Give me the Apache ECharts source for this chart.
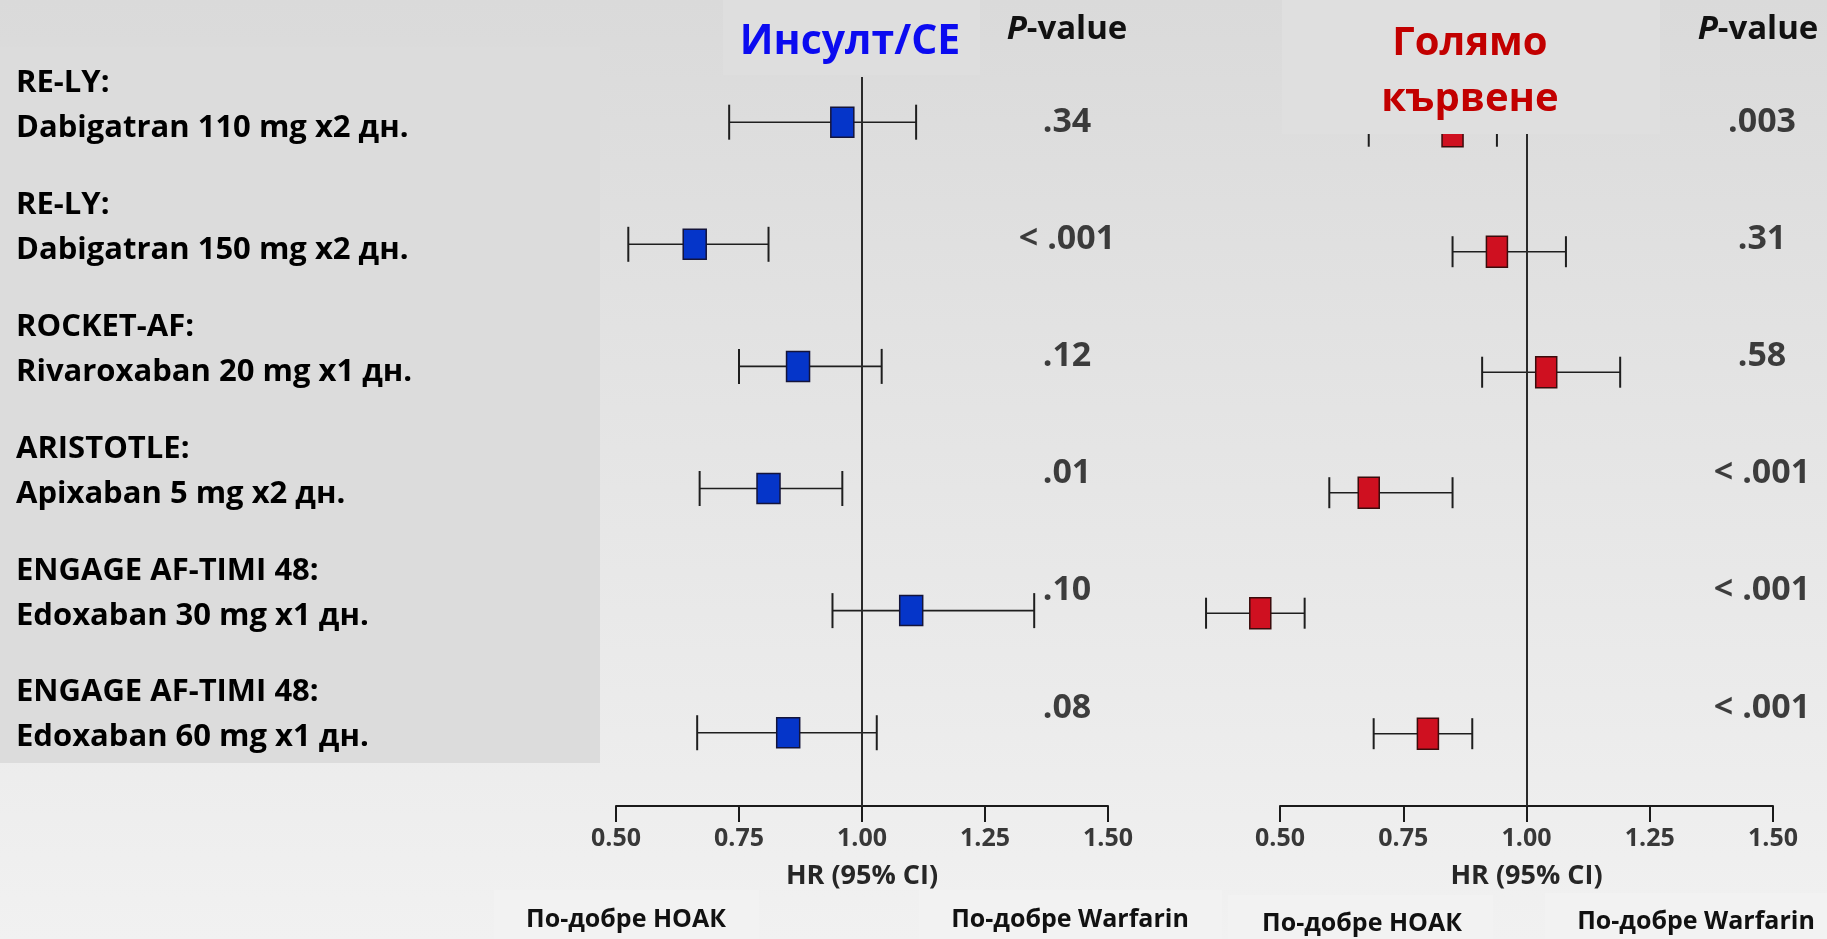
<!DOCTYPE html>
<html>
<head>
<meta charset="utf-8">
<script src="https://cdn.jsdelivr.net/npm/echarts@6/dist/echarts.min.js"></script>
<style>
html,body{margin:0;padding:0;width:1827px;height:939px;overflow:hidden;background:#e6e6e6}
#chart{width:1827px;height:939px}
</style>
</head>
<body>
<div id="chart"></div>
<script>
// ---- data ----
var trials = ['RE-LY:', 'RE-LY:', 'ROCKET-AF:', 'ARISTOTLE:', 'ENGAGE AF-TIMI 48:', 'ENGAGE AF-TIMI 48:'];
var regimens = ['Dabigatran 110 mg x2 дн.', 'Dabigatran 150 mg x2 дн.', 'Rivaroxaban 20 mg x1 дн.', 'Apixaban 5 mg x2 дн.', 'Edoxaban 30 mg x1 дн.', 'Edoxaban 60 mg x1 дн.'];

var strokeHR = [0.96, 0.66, 0.87, 0.81, 1.10, 0.85];
var strokeLo = [0.73, 0.525, 0.75, 0.67, 0.94, 0.665];
var strokeHi = [1.11, 0.81, 1.04, 0.96, 1.35, 1.03];
var strokeP  = ['.34', '< .001', '.12', '.01', '.10', '.08'];

var bleedHR = [0.85, 0.94, 1.04, 0.68, 0.46, 0.80];
var bleedLo = [0.68, 0.85, 0.91, 0.60, 0.35, 0.69];
var bleedHi = [0.94, 1.08, 1.19, 0.85, 0.55, 0.89];
var bleedP  = ['.003', '.31', '.58', '< .001', '< .001', '< .001'];

var xTicks = [0.50, 0.75, 1.00, 1.25, 1.50];
var refHR = 1.0;

var titleStroke = 'Инсулт/СЕ';
var titleBleed = 'Голямо\nкървене';
var pHeader = '{i|P}-value';
var axisTitle = 'HR (95% CI)';
var favourNoac = 'По-добре НОАК';
var favourWarf = 'По-добре Warfarin';

// ---- chart ----
var FONT = '"Open Sans", "Noto Sans", sans-serif';
var chart = echarts.init(document.getElementById('chart'), null, {renderer: 'canvas'});

function rowsData(lo, hr, hi) {
  return hr.map(function (v, i) { return [i, lo[i], v, hi[i]]; });
}

function makeRender(fill, border, boxW, boxH, capH) {
  return function (params, api) {
    var row = api.value(0);
    var pL = api.coord([api.value(1), row]);
    var pM = api.coord([api.value(2), row]);
    var pR = api.coord([api.value(3), row]);
    var ink = '#1e1e1e';
    return {
      type: 'group',
      children: [
        {type: 'line', shape: {x1: pL[0], y1: pL[1], x2: pR[0], y2: pR[1]}, style: {stroke: ink, lineWidth: 1.6}},
        {type: 'line', shape: {x1: pL[0], y1: pL[1] - capH / 2, x2: pL[0], y2: pL[1] + capH / 2}, style: {stroke: ink, lineWidth: 2}},
        {type: 'line', shape: {x1: pR[0], y1: pR[1] - capH / 2, x2: pR[0], y2: pR[1] + capH / 2}, style: {stroke: ink, lineWidth: 2}},
        {type: 'rect', shape: {x: pM[0] - boxW / 2, y: pM[1] - boxH / 2, width: boxW, height: boxH}, style: {fill: fill, stroke: border, lineWidth: 1.5}}
      ]
    };
  };
}

function hrAxis(gridIndex) {
  return {
    gridIndex: gridIndex,
    type: 'value',
    min: xTicks[0],
    max: xTicks[xTicks.length - 1],
    interval: xTicks[1] - xTicks[0],
    axisLine: {show: true, onZero: false, lineStyle: {color: '#1a1a1a', width: 2}},
    axisTick: {show: true, inside: false, length: 16, lineStyle: {color: '#1a1a1a', width: 2}},
    splitLine: {show: false},
    axisLabel: {
      formatter: function (v) { return v.toFixed(2); },
      fontFamily: FONT, fontSize: 25, fontWeight: 'bold', color: '#383838', margin: 20
    },
    name: axisTitle,
    nameLocation: 'middle',
    nameGap: 57,
    nameTextStyle: {fontFamily: FONT, fontSize: 27, fontWeight: 'bold', color: '#262626'}
  };
}

function refLine() {
  return {
    silent: true,
    symbol: ['none', 'none'],
    label: {show: false},
    lineStyle: {color: '#2a2a2a', width: 2, type: 'solid'},
    data: [{xAxis: refHR}]
  };
}

function pSeries(axisIdx, values) {
  return {
    type: 'scatter',
    xAxisIndex: axisIdx, yAxisIndex: axisIdx,
    symbolSize: 1,
    itemStyle: {color: 'rgba(0,0,0,0)'},
    silent: true,
    data: values.map(function (p, i) { return [0.5, i]; }),
    label: {
      show: true, position: 'inside',
      formatter: function (prm) { return values[prm.dataIndex]; },
      fontFamily: FONT, fontSize: 34, fontWeight: 'bold', color: '#111'
    }
  };
}

var option = {
  animation: false,
  backgroundColor: 'transparent',
  grid: [
    {left: 16, top: 45, width: 10, height: 731},
    {left: 616, top: 77, width: 492, height: 729},
    {left: 1280, top: 77, width: 493, height: 729},
    {left: 1017, top: 63.4, width: 100, height: 703},
    {left: 1712, top: 63.4, width: 100, height: 703}
  ],
  xAxis: [
    {gridIndex: 0, type: 'value', show: false},
    hrAxis(1),
    hrAxis(2),
    {gridIndex: 3, type: 'value', min: 0, max: 1, show: false},
    {gridIndex: 4, type: 'value', min: 0, max: 1, show: false}
  ],
  yAxis: [
    {
      gridIndex: 0, type: 'category', inverse: true,
      data: trials.map(function (t, i) { return t + '\n' + regimens[i]; }),
      axisLine: {show: false}, axisTick: {show: false}, splitLine: {show: false},
      axisLabel: {align: 'left', margin: 0, fontFamily: FONT, fontSize: 31, fontWeight: 'bold', color: '#000', lineHeight: 45}
    },
    {gridIndex: 1, type: 'value', inverse: true, min: -0.37, max: 5.6, show: false},
    {gridIndex: 2, type: 'value', inverse: true, min: -0.45, max: 5.6, show: false},
    {gridIndex: 3, type: 'category', inverse: true, data: regimens, show: false},
    {gridIndex: 4, type: 'category', inverse: true, data: regimens, show: false}
  ],
  series: [
    {
      type: 'custom', name: titleStroke,
      xAxisIndex: 1, yAxisIndex: 1,
      encode: {x: [1, 2, 3], y: 0},
      data: rowsData(strokeLo, strokeHR, strokeHi),
      renderItem: makeRender('#0535c9', '#14143a', 23, 30, 35),
      markLine: refLine(),
      clip: false
    },
    {
      type: 'custom', name: 'Голямо кървене',
      xAxisIndex: 2, yAxisIndex: 2,
      encode: {x: [1, 2, 3], y: 0},
      data: rowsData(bleedLo, bleedHR, bleedHi),
      renderItem: makeRender('#cf1020', '#3a0c0c', 21, 31, 31),
      markLine: refLine(),
      clip: false
    },
    pSeries(3, strokeP),
    pSeries(4, bleedP)
  ],
  graphic: [
    {type: 'rect', z: -100, silent: true, shape: {x: 0, y: 0, width: 1827, height: 939},
      style: {fill: new echarts.graphic.LinearGradient(0, 0, 0, 1, [{offset: 0, color: '#dadada'}, {offset: 1, color: '#f1f1f1'}])}},
    {type: 'rect', z: -99, silent: true, shape: {x: 0, y: 47, width: 600, height: 716}, style: {fill: '#dcdcdc'}},
    // bottom label panels
    {type: 'rect', z: -98, silent: true, shape: {x: 494, y: 890, width: 265, height: 49}, style: {fill: '#f2f2f2'}},
    {type: 'rect', z: -98, silent: true, shape: {x: 919, y: 890, width: 303, height: 49}, style: {fill: '#f2f2f2'}},
    {type: 'rect', z: -98, silent: true, shape: {x: 1228, y: 895, width: 265, height: 44}, style: {fill: '#f2f2f2'}},
    {type: 'rect', z: -98, silent: true, shape: {x: 1545, y: 893, width: 282, height: 46}, style: {fill: '#f2f2f2'}},
    // title panels
    {type: 'rect', z: 20, silent: true, shape: {x: 723, y: 0, width: 257, height: 75}, style: {fill: '#dedede'}},
    {type: 'rect', z: 20, silent: true, shape: {x: 1282, y: 0, width: 378, height: 134}, style: {fill: '#dfdfdf'}},
    {type: 'text', z: 21, silent: true, style: {text: titleStroke, x: 850, y: 42, align: 'center', verticalAlign: 'middle',
      fill: '#0b0bf0', fontFamily: FONT, fontSize: 41, fontWeight: 'bold'}},
    {type: 'text', z: 21, silent: true, style: {text: titleBleed, x: 1470, y: 72, align: 'center', verticalAlign: 'middle',
      fill: '#c20000', fontFamily: FONT, fontSize: 40, fontWeight: 'bold', lineHeight: 56}},
    // P-value headers
    {type: 'text', z: 21, silent: true, style: {text: pHeader, x: 1067, y: 30, align: 'center', verticalAlign: 'middle',
      fill: '#111', fontFamily: FONT, fontSize: 33, fontWeight: 'bold', rich: {i: {fontStyle: 'italic', fontFamily: FONT, fontSize: 33, fontWeight: 'bold', fill: '#111'}}}},
    {type: 'text', z: 21, silent: true, style: {text: pHeader, x: 1758, y: 30, align: 'center', verticalAlign: 'middle',
      fill: '#111', fontFamily: FONT, fontSize: 33, fontWeight: 'bold', rich: {i: {fontStyle: 'italic', fontFamily: FONT, fontSize: 33, fontWeight: 'bold', fill: '#111'}}}},
    // favour labels
    {type: 'text', z: 21, silent: true, style: {text: favourNoac, x: 626, y: 920, align: 'center', verticalAlign: 'middle',
      fill: '#111', fontFamily: FONT, fontSize: 25, fontWeight: 'bold'}},
    {type: 'text', z: 21, silent: true, style: {text: favourWarf, x: 1070, y: 920, align: 'center', verticalAlign: 'middle',
      fill: '#111', fontFamily: FONT, fontSize: 25, fontWeight: 'bold'}},
    {type: 'text', z: 21, silent: true, style: {text: favourNoac, x: 1362, y: 924, align: 'center', verticalAlign: 'middle',
      fill: '#111', fontFamily: FONT, fontSize: 25, fontWeight: 'bold'}},
    {type: 'text', z: 21, silent: true, style: {text: favourWarf, x: 1696, y: 922, align: 'center', verticalAlign: 'middle',
      fill: '#111', fontFamily: FONT, fontSize: 25, fontWeight: 'bold'}}
  ]
};

chart.setOption(option);
</script>
</body>
</html>
